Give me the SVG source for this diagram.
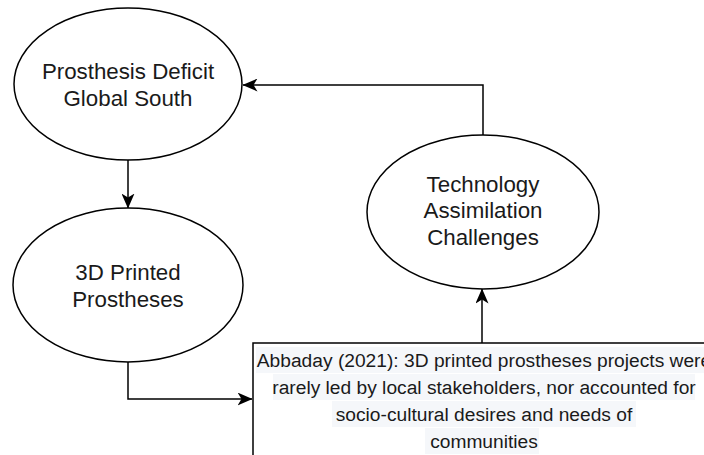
<svg xmlns="http://www.w3.org/2000/svg" width="704" height="455" viewBox="0 0 704 455">
<style>
.node{fill:#ffffff;stroke:#000000;stroke-width:1.5}
.lbl{font-family:"Liberation Sans",Arial,sans-serif;font-size:22.3px;fill:#1a1a1a;text-anchor:middle}
.lbl2{font-family:"Liberation Sans",Arial,sans-serif;font-size:19.2px;fill:#1a1a1a;text-anchor:middle}
.hl{fill:#f5f7fa}
.edge{fill:none;stroke:#000000;stroke-width:1.5}
</style>
<defs>
<marker id="arr" viewBox="0 0 15 13" refX="14.5" refY="6.5" markerWidth="15" markerHeight="13" markerUnits="userSpaceOnUse" orient="auto">
<path d="M0,0 L15,6.5 L0,13 L4,6.5 Z" fill="#000000"/>
</marker>
</defs>
<rect width="704" height="455" fill="#ffffff"/>
<g id="connectors">
<path class="edge" d="M128,160 L128,208" marker-end="url(#arr)"/>
<path class="edge" d="M128,362 L128,399 L252,399" marker-end="url(#arr)"/>
<path class="edge" d="M482,343 L482,289" marker-end="url(#arr)"/>
<path class="edge" d="M483,135 L483,85 L243,85" marker-end="url(#arr)"/>
</g>
<g id="node-deficit">
<ellipse class="node" cx="128" cy="84" rx="114" ry="76"/>
<text class="lbl" x="128" y="79">Prosthesis Deficit</text>
<text class="lbl" x="128" y="106">Global South</text>
</g>
<g id="node-3d">
<ellipse class="node" cx="128" cy="285" rx="115" ry="77"/>
<text class="lbl" x="128" y="280">3D Printed</text>
<text class="lbl" x="128" y="307">Prostheses</text>
</g>
<g id="node-tech">
<ellipse class="node" cx="483" cy="212" rx="116" ry="77"/>
<text class="lbl" x="483" y="192">Technology</text>
<text class="lbl" x="483" y="218">Assimilation</text>
<text class="lbl" x="483" y="245">Challenges</text>
</g>
<g id="node-abbaday">
<rect class="node" x="253" y="343" width="462" height="130"/>
<rect class="hl" x="256" y="347" width="456" height="26"/>
<rect class="hl" x="273" y="374" width="422" height="26"/>
<rect class="hl" x="332" y="401" width="304" height="26"/>
<rect class="hl" x="425" y="428" width="114" height="26"/>
<text class="lbl2" x="484" y="367">Abbaday (2021): 3D printed prostheses projects were</text>
<text class="lbl2" x="484" y="394">rarely led by local stakeholders, nor accounted for</text>
<text class="lbl2" x="484" y="421">socio-cultural desires and needs of</text>
<text class="lbl2" x="484" y="448">communities</text>
</g>
</svg>
